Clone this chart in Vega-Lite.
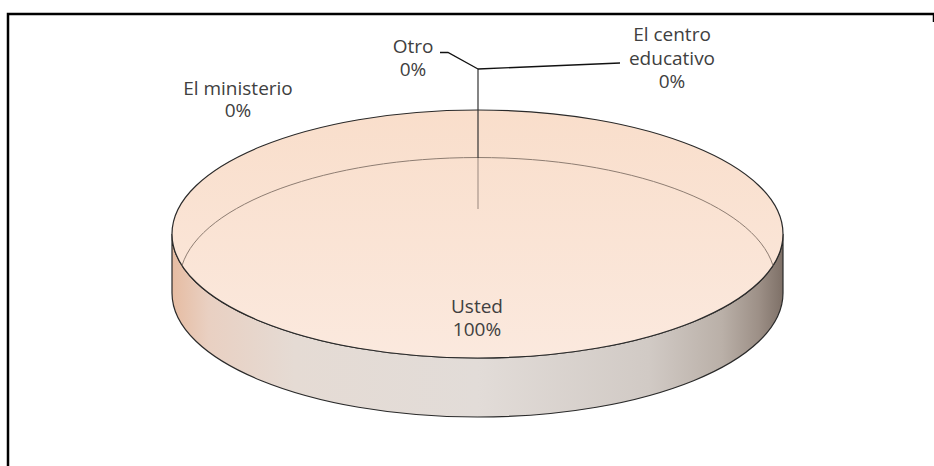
{
  "$schema": "https://vega.github.io/schema/vega-lite/v6.json",
  "width": 926,
  "height": 452,
  "autosize": "none",
  "padding": {"left": 8, "top": 14, "right": 0, "bottom": 0},
  "background": "white",
  "config": {
    "view": {"stroke": null}
  },
  "data": {
    "values": [
      {"category": "Usted", "label": "Usted", "value": 1},
      {"category": "El ministerio", "label": "El ministerio", "value": 0},
      {"category": "Otro", "label": "Otro", "value": 0},
      {"category": "El centro educativo", "label": "El centro\neducativo", "value": 0}
    ]
  },
  "transform": [
    {"calculate": "datum.label + '\\n' + format(datum.value, '.0%')", "as": "text"}
  ],
  "layer": [
    {
      "transform": [{"filter": "datum.value > 0"}],
      "mark": {"type": "rect", "fill": null, "stroke": "#000000", "strokeWidth": 2.5, "strokeDash": [934, 1370, 452]},
      "encoding": {}
    },
    {
      "transform": [{"filter": "datum.value > 0"}],
      "mark": {
        "type": "point",
        "shape": "M-299,-6 L-299,53 A305.5,124 0 0,0 312,53 L312,-6 A305.5,124 0 0,1 -299,-6 Z",
        "size": 4,
        "filled": true,
        "opacity": 1,
        "fill": {
          "gradient": "linear", "x1": 0, "y1": 0, "x2": 1, "y2": 0,
          "stops": [
            {"offset": 0, "color": "#E6BCA2"},
            {"offset": 0.06, "color": "#E9D0C2"},
            {"offset": 0.2, "color": "#E5DBD4"},
            {"offset": 0.5, "color": "#E2DCD8"},
            {"offset": 0.78, "color": "#D1CAC5"},
            {"offset": 0.9, "color": "#BAB0A8"},
            {"offset": 0.96, "color": "#9D9087"},
            {"offset": 1, "color": "#7E7067"}
          ]
        },
        "stroke": "#2a2a2a",
        "strokeWidth": 1.2
      },
      "encoding": {}
    },
    {
      "transform": [{"filter": "datum.value > 0"}],
      "mark": {
        "type": "point",
        "shape": "M-299,-6 A305.5,124 0 1,1 312,-6 A305.5,124 0 1,1 -299,-6 Z",
        "size": 4,
        "filled": true,
        "opacity": 1,
        "fill": {
          "gradient": "linear", "x1": 0, "y1": 0, "x2": 0, "y2": 1,
          "stops": [
            {"offset": 0, "color": "#F9DECB"},
            {"offset": 1, "color": "#FBE9DE"}
          ]
        },
        "stroke": "#2a2a2a",
        "strokeWidth": 1.2
      },
      "encoding": {}
    },
    {
      "transform": [{"filter": "datum.value > 0"}],
      "mark": {
        "type": "point",
        "shape": "M-289,25.5 A298,124 0 0,1 302,25.5",
        "size": 4,
        "filled": false,
        "opacity": 1,
        "fill": null,
        "stroke": "#8e7d72",
        "strokeWidth": 1
      },
      "encoding": {}
    },
    {
      "transform": [{"filter": "datum.value > 0"}],
      "mark": {
        "type": "point",
        "shape": "M7,-82 L7,-31",
        "size": 4,
        "filled": false,
        "opacity": 1,
        "stroke": "#a8968b",
        "strokeWidth": 1.2
      },
      "encoding": {}
    },
    {
      "transform": [{"filter": "datum.value > 0"}],
      "mark": {
        "type": "point",
        "shape": "M7,-171 L7,-82",
        "size": 4,
        "filled": false,
        "opacity": 1,
        "stroke": "#333333",
        "strokeWidth": 1.2
      },
      "encoding": {}
    },
    {
      "transform": [{"filter": "datum.category == 'Otro'"}],
      "mark": {
        "type": "point",
        "shape": "M7,-171 L-23,-187.5 L-31,-187.5",
        "size": 4,
        "filled": false,
        "opacity": 1,
        "stroke": "#111111",
        "strokeWidth": 1.3
      },
      "encoding": {}
    },
    {
      "transform": [{"filter": "datum.category == 'El centro educativo'"}],
      "mark": {
        "type": "point",
        "shape": "M7,-171 L149,-177",
        "size": 4,
        "filled": false,
        "opacity": 1,
        "stroke": "#111111",
        "strokeWidth": 1.3
      },
      "encoding": {}
    },
    {
      "transform": [{"filter": "datum.category == 'Usted'"}],
      "mark": {"type": "text", "font": "Open Sans", "fontSize": 19, "fill": "#404040", "lineBreak": "\n", "lineHeight": 23, "align": "center", "baseline": "alphabetic", "dx": 6, "dy": 73},
      "encoding": {"text": {"field": "text"}}
    },
    {
      "transform": [{"filter": "datum.category == 'El ministerio'"}],
      "mark": {"type": "text", "font": "Open Sans", "fontSize": 19, "fill": "#404040", "lineBreak": "\n", "lineHeight": 22, "align": "center", "baseline": "alphabetic", "dx": -233, "dy": -145},
      "encoding": {"text": {"field": "text"}}
    },
    {
      "transform": [{"filter": "datum.category == 'Otro'"}],
      "mark": {"type": "text", "font": "Open Sans", "fontSize": 19, "fill": "#404040", "lineBreak": "\n", "lineHeight": 23, "align": "center", "baseline": "alphabetic", "dx": -58, "dy": -187},
      "encoding": {"text": {"field": "text"}}
    },
    {
      "transform": [{"filter": "datum.category == 'El centro educativo'"}],
      "mark": {"type": "text", "font": "Open Sans", "fontSize": 19, "fill": "#404040", "lineBreak": "\n", "lineHeight": 23.5, "align": "center", "baseline": "alphabetic", "dx": 201, "dy": -199},
      "encoding": {"text": {"field": "text"}}
    }
  ]
}
